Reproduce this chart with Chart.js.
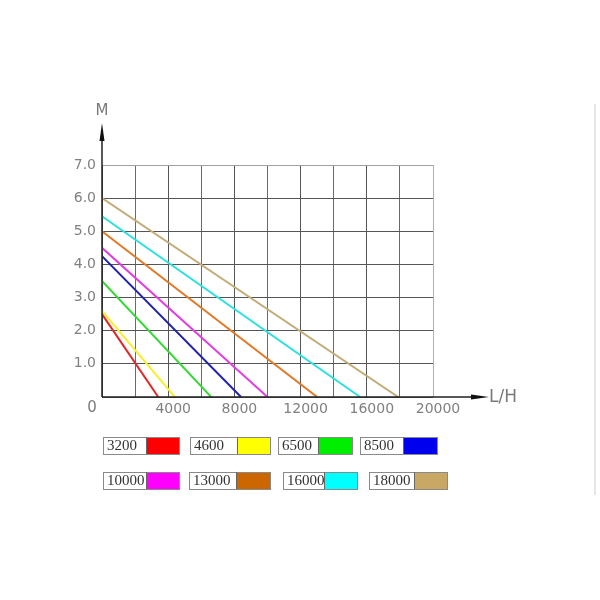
<!DOCTYPE html>
<html>
<head>
<meta charset="utf-8">
<script src="https://cdn.jsdelivr.net/npm/chart.js@4/dist/chart.umd.min.js"></script>
<style>
  body { margin: 0; background: #fff; }
  #wrap { width: 600px; height: 600px; }
</style>
</head>
<body>
<div id="wrap"><canvas id="pumpChart" width="600" height="600"></canvas></div>
<script>
// pump models and their curves (head in m at zero flow, flow in L/H at zero head)
const models = ['3200', '4600', '6500', '8500', '10000', '13000', '16000', '18000'];
const maxHead = [2.5, 2.6, 3.5, 4.25, 4.5, 5.0, 5.45, 6.0];
const maxFlow = [3400, 4400, 6600, 8400, 10000, 13000, 15600, 17900];
const lineColors = ['#e02828', '#f6f030', '#38d838', '#2020b0', '#e040e0', '#e07a28', '#30e0e0', '#c4ac78'];
const swatchColors = ['#ff0000', '#ffff00', '#00ee00', '#0000ee', '#ff00ff', '#cc6600', '#00ffff', '#c8a864'];

// legend boxes: [left, swatch start, right]
const legendRows = [
  { top: 437, bottom: 454, boxes: [[103, 146, 179], [190, 237, 270], [278, 318, 352], [360, 403, 437]] },
  { top: 472, bottom: 489, boxes: [[103, 146, 179], [189, 236, 270], [283, 324, 357], [369, 414, 447]] }
];

const tickFont = { family: 'DejaVu Sans', size: 14 };

const datasets = models.map((m, i) => ({
  label: m,
  data: [{ x: 0, y: maxHead[i] }, { x: maxFlow[i], y: 0 }],
  borderColor: lineColors[i],
  borderWidth: 2,
  showLine: true,
  pointRadius: 0,
  fill: false
}));

const decor = {
  id: 'decor',
  afterDraw(chart) {
    const ctx = chart.ctx;
    const xs = chart.scales.x, ys = chart.scales.y;
    const x0 = xs.getPixelForValue(0);
    const y0 = ys.getPixelForValue(0);
    ctx.save();

    // axes with arrows
    ctx.strokeStyle = '#222';
    ctx.fillStyle = '#111';
    ctx.lineWidth = 1.5;
    ctx.beginPath();
    ctx.moveTo(x0, y0); ctx.lineTo(x0, 138);
    ctx.moveTo(x0, y0); ctx.lineTo(473, y0);
    ctx.stroke();
    ctx.beginPath();
    ctx.moveTo(x0, 123); ctx.lineTo(x0 - 2.5, 141); ctx.lineTo(x0 + 2.5, 141); ctx.closePath();
    ctx.fill();
    ctx.beginPath();
    ctx.moveTo(489, y0); ctx.lineTo(471, y0 - 2.5); ctx.lineTo(471, y0 + 2.5); ctx.closePath();
    ctx.fill();

    // axis names and origin
    ctx.fillStyle = '#7a7a7a';
    ctx.font = '15px "DejaVu Sans"';
    ctx.textBaseline = 'middle';
    ctx.textAlign = 'center';
    ctx.fillText('M', x0, 111);
    ctx.fillText('0', 92, 408);
    ctx.textAlign = 'left';
    ctx.font = '17px "DejaVu Sans"';
    ctx.fillText('L/H', 489, 398);

    // legend
    ctx.font = '15px "Liberation Serif"';
    ctx.lineWidth = 1;
    let k = 0;
    legendRows.forEach(row => {
      row.boxes.forEach(b => {
        const h = row.bottom - row.top;
        ctx.fillStyle = swatchColors[k];
        ctx.fillRect(b[1], row.top, b[2] - b[1], h);
        ctx.strokeStyle = '#8a8a8a';
        ctx.strokeRect(b[0] + 0.5, row.top + 0.5, b[2] - b[0], h);
        ctx.strokeStyle = '#666';
        ctx.beginPath();
        ctx.moveTo(b[1] + 0.5, row.top); ctx.lineTo(b[1] + 0.5, row.bottom);
        ctx.stroke();
        ctx.fillStyle = '#333';
        ctx.textAlign = 'left';
        ctx.fillText(models[k], b[0] + 4, (row.top + row.bottom) / 2 + 1);
        k++;
      });
    });

    // faint page edge on the right
    ctx.fillStyle = '#e6e6e6';
    ctx.fillRect(594, 104, 2, 391);
    ctx.restore();
  }
};

new Chart(document.getElementById('pumpChart').getContext('2d'), {
  type: 'scatter',
  data: { datasets },
  options: {
    responsive: false,
    animation: false,
    devicePixelRatio: 1,
    layout: { padding: { left: 0, top: 165, right: 167, bottom: 0 } },
    plugins: { legend: { display: false }, tooltip: { enabled: false } },
    scales: {
      x: {
        type: 'linear',
        min: 0, max: 20000,
        afterFit: s => { s.height = 203; },
        border: { display: false },
        grid: {
          drawTicks: false,
          lineWidth: 1,
          color: c => c.tick.value === 20000 ? '#b0b0b0' : (c.tick.value % 4000 === 0 ? '#555' : '#6a6a6a')
        },
        ticks: {
          stepSize: 2000,
          autoSkip: false,
          maxRotation: 0,
          padding: 4,
          labelOffset: 5,
          color: '#808080',
          font: tickFont,
          callback: v => (v !== 0 && v % 4000 === 0) ? String(v) : ''
        }
      },
      y: {
        min: 0, max: 7,
        afterFit: s => { s.width = 102; },
        border: { display: false },
        grid: {
          drawTicks: false,
          lineWidth: 1,
          color: c => c.tick.value === 7 ? '#a0a0a0' : '#555'
        },
        ticks: {
          stepSize: 1,
          padding: 6,
          color: '#808080',
          font: tickFont,
          callback: v => v === 0 ? '' : v.toFixed(1)
        }
      }
    }
  },
  plugins: [decor]
});
</script>
</body>
</html>
